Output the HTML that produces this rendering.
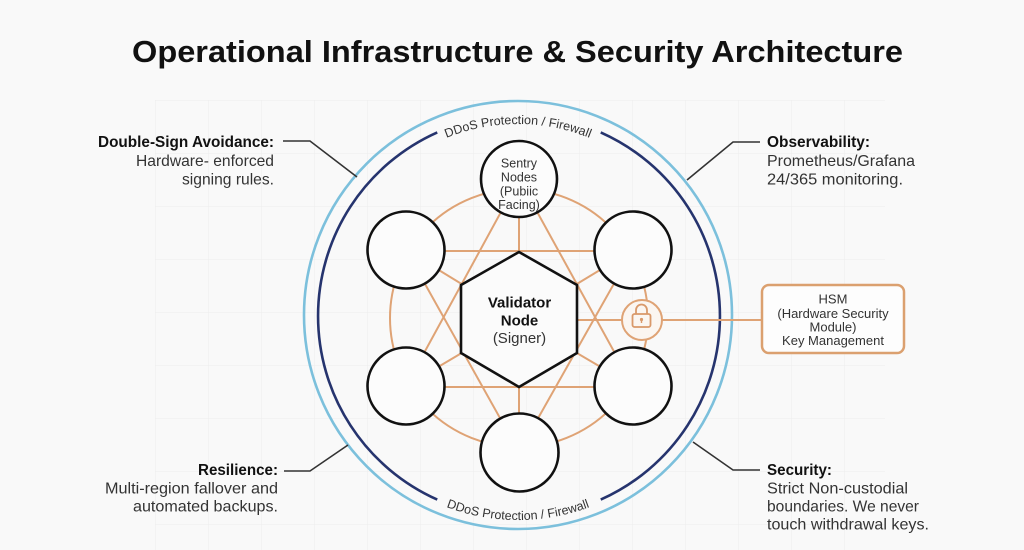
<!DOCTYPE html>
<html><head><meta charset="utf-8"><style>
html,body{margin:0;padding:0;background:#f9f9f9;}
svg{display:block;}
text{font-family:"Liberation Sans",Arial,sans-serif;}
</style></head><body>
<svg width="1024" height="550" viewBox="0 0 1024 550" xmlns="http://www.w3.org/2000/svg">
<defs>
<pattern id="grid" x="155" y="100" width="53" height="53" patternUnits="userSpaceOnUse">
<path d="M0 0H53M0 0V53" stroke="#efefef" stroke-width="1.2" fill="none"/>
</pattern>
<path id="topArc" d="M327 315 A191 191 0 0 1 709 315"/>
<path id="botArc" d="M313 315 A205 205 0 0 0 723 315"/>
</defs>
<rect width="1024" height="550" fill="#f9f9f9"/>
<rect x="155" y="100" width="730" height="450" fill="url(#grid)"/>

<!-- Title -->
<text x="132" y="62" font-size="31" font-weight="bold" fill="#111" textLength="771" lengthAdjust="spacingAndGlyphs">Operational Infrastructure &amp; Security Architecture</text>

<!-- rings -->
<circle cx="518" cy="315" r="214" fill="none" stroke="#7cc0dc" stroke-width="2.6"/>
<path d="M600.75 132.4 A201 201 0 0 1 600.75 499.6" fill="none" stroke="#26346e" stroke-width="2.6"/>
<path d="M437.25 499.6 A201 201 0 0 1 437.25 132.4" fill="none" stroke="#26346e" stroke-width="2.6"/>
<text font-size="12.5" fill="#333"><textPath href="#topArc" startOffset="50%" text-anchor="middle">DDoS Protection / Firewall</textPath></text>
<text font-size="12.5" fill="#333"><textPath href="#botArc" startOffset="50%" text-anchor="middle">DDoS Protection / Firewall</textPath></text>

<!-- orange network -->
<g stroke="#dfa375" stroke-width="2" fill="none">
<circle cx="519" cy="318" r="129"/>
<!-- triangle top-LL-LR -->
<line x1="519" y1="179" x2="406" y2="386"/>
<line x1="519" y1="179" x2="633" y2="386"/>
<line x1="406" y1="387" x2="633" y2="387"/>
<!-- triangle bottom-UL-UR -->
<line x1="519" y1="452" x2="406" y2="250"/>
<line x1="519" y1="452" x2="633" y2="250"/>
<line x1="406" y1="251" x2="633" y2="251"/>
<!-- spokes -->
<line x1="519" y1="179" x2="519" y2="319"/>
<line x1="519" y1="452" x2="519" y2="319"/>
<line x1="406" y1="250" x2="519" y2="319"/>
<line x1="633" y1="250" x2="519" y2="319"/>
<line x1="406" y1="386" x2="519" y2="319"/>
<line x1="633" y1="386" x2="519" y2="319"/>
<!-- HSM link -->
<line x1="560" y1="320" x2="762" y2="320"/>
</g>

<!-- hexagon -->
<polygon points="519,252 577,285 577,353 519,387 461,353 461,285" fill="#fbfbfb" stroke="#111" stroke-width="2.6" stroke-linejoin="miter"/>
<text x="519.5" y="307.5" font-size="15" font-weight="bold" fill="#111" text-anchor="middle">Validator</text>
<text x="519.5" y="325.5" font-size="15" font-weight="bold" fill="#111" text-anchor="middle">Node</text>
<text x="519.5" y="343" font-size="15" fill="#333" text-anchor="middle">(Signer)</text>

<!-- nodes -->
<g fill="#fcfcfc" stroke="#111" stroke-width="2.6">
<circle cx="519" cy="179" r="38"/>
<circle cx="406" cy="250" r="38.5"/>
<circle cx="633" cy="250" r="38.5"/>
<circle cx="406" cy="386" r="38.5"/>
<circle cx="633" cy="386" r="38.5"/>
<circle cx="519.5" cy="452.5" r="39"/>
</g>
<g font-size="12.5" fill="#333" text-anchor="middle">
<text x="519" y="167.5">Sentry</text>
<text x="519" y="181.5">Nodes</text>
<text x="519" y="195.5">(Pubiic</text>
<text x="519" y="209">Facing)</text>
</g>

<!-- lock -->
<circle cx="642" cy="320" r="20" fill="#fbf6f1" stroke="#dfa375" stroke-width="2"/>
<g stroke="#d9996a" stroke-width="1.8" fill="none">
<rect x="632.5" y="314" width="18" height="13" rx="2"/>
<path d="M636 314 V310 A5.5 5.5 0 0 1 647 310 V314"/>
</g>
<circle cx="641.5" cy="319.5" r="1.6" fill="#d9996a"/>
<rect x="640.8" y="319.5" width="1.4" height="3.5" fill="#d9996a"/>

<!-- HSM box -->
<rect x="762" y="285" width="142" height="68" rx="7" fill="#fdfdfd" stroke="#dba06f" stroke-width="2.5"/>
<g font-size="13" fill="#333" text-anchor="middle">
<text x="833" y="303.5">HSM</text>
<text x="833" y="318">(Hardware Security</text>
<text x="833" y="331.5">Module)</text>
<text x="833" y="345">Key Management</text>
</g>

<!-- connectors -->
<g stroke="#333" stroke-width="1.6" fill="none">
<polyline points="283,141 310,141 357,177"/>
<polyline points="760,142 733,142 687,180"/>
<polyline points="284,471 310,471 348,445"/>
<polyline points="760,470 733,470 693,442"/>
</g>

<!-- side text -->
<g fill="#111" font-weight="bold" font-size="15.5">
<text x="274" y="147" text-anchor="end" textLength="176" lengthAdjust="spacingAndGlyphs">Double-Sign Avoidance:</text>
<text x="767" y="147" textLength="103" lengthAdjust="spacingAndGlyphs">Observability:</text>
<text x="278" y="475" text-anchor="end" textLength="80" lengthAdjust="spacingAndGlyphs">Resilience:</text>
<text x="767" y="475" textLength="65" lengthAdjust="spacingAndGlyphs">Security:</text>
</g>
<g fill="#333" font-size="16">
<text x="274" y="166" text-anchor="end" textLength="138" lengthAdjust="spacingAndGlyphs">Hardware- enforced</text>
<text x="274" y="184.5" text-anchor="end" textLength="92" lengthAdjust="spacingAndGlyphs">signing rules.</text>
<text x="767" y="166" textLength="148" lengthAdjust="spacingAndGlyphs">Prometheus/Grafana</text>
<text x="767" y="184.5" textLength="136" lengthAdjust="spacingAndGlyphs">24/365 monitoring.</text>
<text x="278" y="493.5" text-anchor="end" textLength="173" lengthAdjust="spacingAndGlyphs">Multi-region fallover and</text>
<text x="278" y="511.5" text-anchor="end" textLength="145" lengthAdjust="spacingAndGlyphs">automated backups.</text>
<text x="767" y="493.5" textLength="141" lengthAdjust="spacingAndGlyphs">Strict Non-custodial</text>
<text x="767" y="511.5" textLength="152" lengthAdjust="spacingAndGlyphs">boundaries. We never</text>
<text x="767" y="529.5" textLength="162" lengthAdjust="spacingAndGlyphs">touch withdrawal keys.</text>
</g>
</svg>
</body></html>
